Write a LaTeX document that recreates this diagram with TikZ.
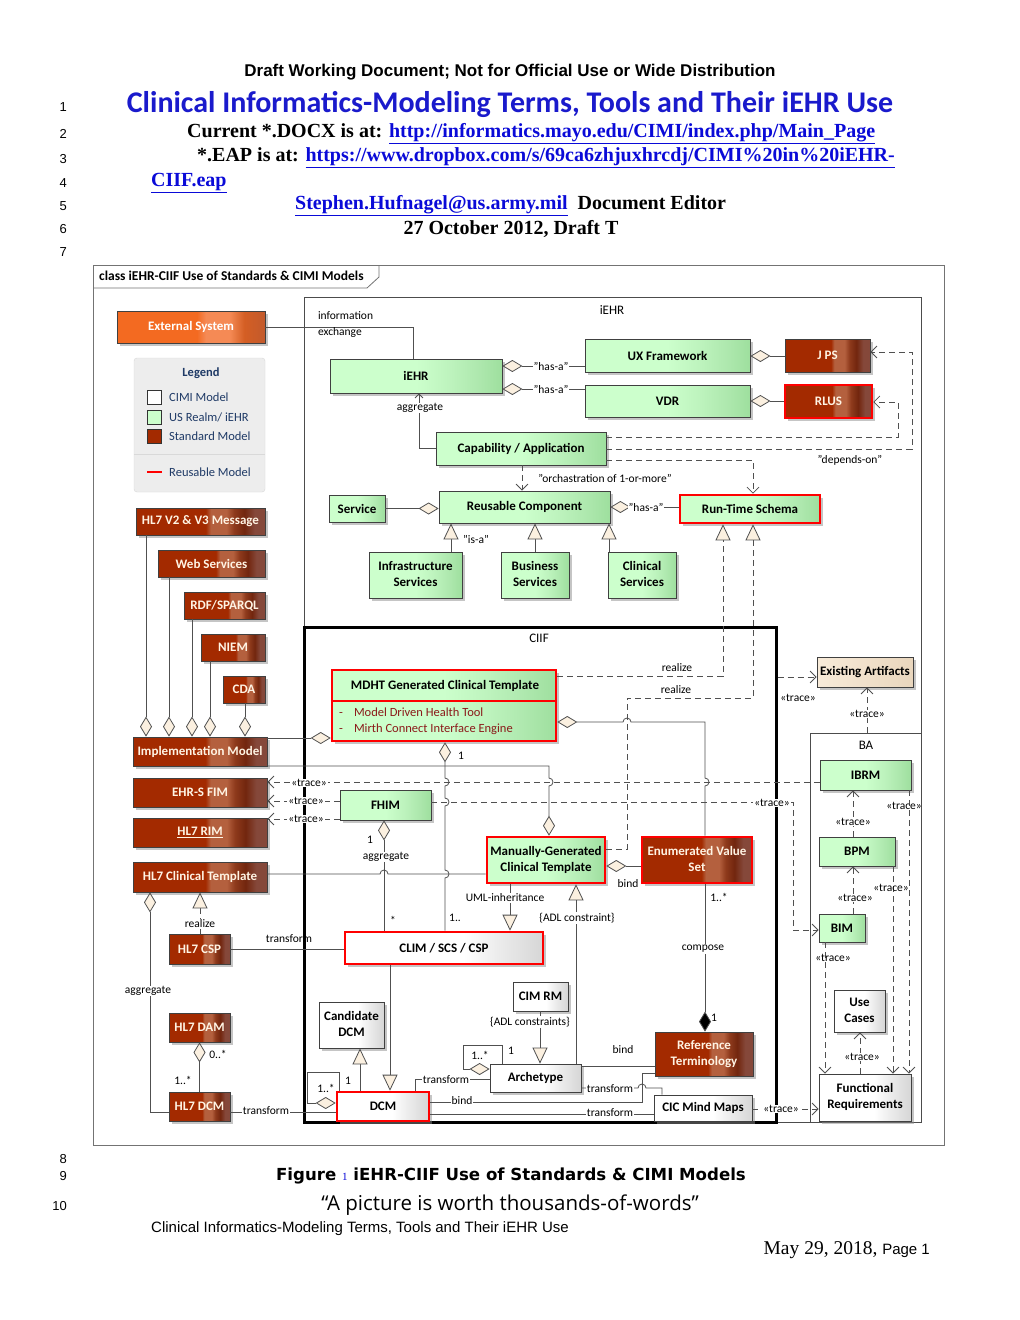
\documentclass[tikz,border=0pt]{standalone}
\usepackage{fontspec}
\setmainfont{Carlito}
\newfontfamily\lsans{Liberation Sans}
\newfontfamily\lserif{Liberation Serif}
\newfontfamily\dsans{DejaVu Sans}
\newfontfamily\qfont{Open Sans}
\usetikzlibrary{arrows.meta,shadows}
\definecolor{grn1}{HTML}{CCFFCC}
\definecolor{grn2}{HTML}{9EDF9E}
\definecolor{grn3}{HTML}{BDF3BD}
\definecolor{grn4}{HTML}{AEE8AE}
\definecolor{std1}{HTML}{A32A00}
\definecolor{std3}{HTML}{B4603E}
\definecolor{std4}{HTML}{8E3A1C}
\definecolor{std5}{HTML}{72260E}
\definecolor{std6}{HTML}{85483A}
\definecolor{stdtxt}{HTML}{FFF4E4}
\definecolor{wht2}{HTML}{D6D6D6}
\definecolor{wht3}{HTML}{EBEBEB}
\definecolor{ext1}{HTML}{F36A21}
\definecolor{ext3}{HTML}{F58A55}
\definecolor{ext4}{HTML}{D45E24}
\definecolor{ext5}{HTML}{C25A2C}
\definecolor{bei1}{HTML}{F8EBD9}
\definecolor{bei2}{HTML}{E9D6BD}
\definecolor{cream}{HTML}{FBF0E0}
\definecolor{lnc}{HTML}{505050}
\definecolor{legc}{HTML}{1F3A66}
\definecolor{ttlblue}{HTML}{1A1ACC}
\definecolor{linkblue}{HTML}{0A0AD8}
\definecolor{itemred}{HTML}{8B1A1A}
\pgfdeclarehorizontalshading{stdshade}{100bp}{color(0bp)=(std1); color(25bp)=(std1); color(52bp)=(std1); color(54bp)=(std3); color(60bp)=(std3); color(63bp)=(std4); color(67bp)=(std5); color(71bp)=(std6); color(75bp)=(std6); color(100bp)=(std6)}
\pgfdeclarehorizontalshading{grnshade}{100bp}{color(0bp)=(grn1); color(25bp)=(grn1); color(50bp)=(grn1); color(60bp)=(grn3); color(68bp)=(grn4); color(75bp)=(grn2); color(100bp)=(grn2)}
\pgfdeclarehorizontalshading{whtshade}{100bp}{color(0bp)=(white); color(25bp)=(white); color(55bp)=(white); color(64bp)=(wht3); color(75bp)=(wht2); color(100bp)=(wht2)}
\pgfdeclarehorizontalshading{extshade}{100bp}{color(0bp)=(ext1); color(25bp)=(ext1); color(52bp)=(ext1); color(55bp)=(ext3); color(63bp)=(ext3); color(68bp)=(ext4); color(75bp)=(ext5); color(100bp)=(ext5)}
\newcommand\twol[2]{\begin{tabular}{@{}c@{}}#1\\#2\end{tabular}}
% \bx{style}{x1}{y1}{x2}{y2}{name}{text}
\newcommand\bx[7]{\node[#1, minimum width={(#4-#2)*1pt}, minimum height={(#5-#3)*1pt}, anchor=center] (#6) at ({(#2+#4)/2},{(#3+#5)/2}) {#7};}
\begin{document}
\begin{tikzpicture}[x=1pt,y=-1pt,
 box/.style={draw=black!75, line width=0.8pt, inner sep=0pt,
   font=\fontsize{13}{16}\selectfont\bfseries,
   drop shadow={shadow xshift=2.5pt,shadow yshift=-2.5pt,fill=black!45,opacity=0.5}},
 gbox/.style={box, shade, shading=grnshade},
 sbox/.style={box, shade, shading=stdshade, text=stdtxt},
 wbox/.style={box, shade, shading=whtshade},
 ebox/.style={box, shade, shading=extshade, text=white},
 bbox/.style={box, left color=bei1, right color=bei2},
 redb/.style={draw=red, line width=2.6pt},
 pkg/.style={draw=black!70, line width=0.8pt, inner sep=0pt},
 conn/.style={draw=lnc, line width=0.8pt},
 dconn/.style={conn, dash pattern=on 6pt off 4pt},
 otip/.style={-{Straight Barb[length=6pt,width=12pt]}},
 ttip/.style={-{Triangle[length=16pt,width=15pt,fill=cream]}},
 dend/.style={-{Diamond[length=20pt,width=12pt,fill=cream]}},
 dstart/.style={{Diamond[length=20pt,width=12pt,fill=cream]}-},
 lbl/.style={font=\fontsize{11.5}{12}\selectfont, inner sep=0.8pt},
 lblw/.style={lbl, fill=white},
 hdr/.style={inner sep=0pt},
 lnum/.style={inner sep=0pt, anchor=east, font=\lsans\fontsize{13}{14}\selectfont},
 hoph/.style={},
]
\useasboundingbox (0,0) rectangle (1020,1320);
\fill[white] (0,0) rectangle (1020,1320);

% ---------- header ----------
\node[hdr] (draft) at (510,72) {\lsans\bfseries\fontsize{17}{18}\selectfont Draft Working Document; Not for Official Use or Wide Distribution};
\node[hdr, text=ttlblue] (title) at (510,104) {\bfseries\fontsize{30}{32}\selectfont Clinical Informatics-Modeling Terms, Tools and Their iEHR Use};
\node[hdr, anchor=west] (l2) at (187,134) {\lserif\bfseries\fontsize{20}{22}\selectfont Current *.DOCX is at: \textcolor{linkblue}{\underline{http://informatics.mayo.edu/CIMI/index.php/Main\_Page}}};
\node[hdr, anchor=west] (l3) at (197,158) {\lserif\bfseries\fontsize{20}{22}\selectfont *.EAP is at: \textcolor{linkblue}{\underline{https://www.dropbox.com/s/69ca6zhjuxhrcdj/CIMI\%20in\%20iEHR-}}};
\node[hdr, anchor=west] (l4) at (151,183) {\lserif\bfseries\fontsize{20}{22}\selectfont \textcolor{linkblue}{\underline{CIIF.eap}}};
\node[hdr, anchor=west] (l5) at (295,206) {\lserif\bfseries\fontsize{20}{22}\selectfont \textcolor{linkblue}{\underline{Stephen.Hufnagel@us.army.mil}}\ \ Document Editor};
\node[hdr] (l6) at (511,229) {\lserif\bfseries\fontsize{20}{22}\selectfont 27 October 2012, Draft T};
\node[lnum] (n1) at (67,107) {1};
\node[lnum] (n2) at (67,134) {2};
\node[lnum] (n3) at (67,159) {3};
\node[lnum] (n4) at (67,183) {4};
\node[lnum] (n5) at (67,206) {5};
\node[lnum] (n6) at (67,229) {6};
\node[lnum] (n7) at (67,252) {7};
\node[lnum] (n8) at (67,1159) {8};
\node[lnum] (n9) at (67,1176) {9};
\node[lnum] (n10) at (67,1206) {10};

% ---------- footer ----------
\node[hdr] (fig) at (511,1176) {\dsans\bfseries\fontsize{16.6}{18}\selectfont Figure {\lserif\mdseries\fontsize{11}{12}\selectfont\color{linkblue}1} iEHR-CIIF Use of Standards \& CIMI Models};
\node[hdr] (quote) at (510,1205) {\qfont\fontsize{20.5}{22}\selectfont “A picture is worth thousands-of-words”};
\node[hdr, anchor=west] (foot) at (151,1229) {\lsans\fontsize{15}{16}\selectfont Clinical Informatics-Modeling Terms, Tools and Their iEHR Use};
\node[hdr, anchor=east] (page) at (930,1250) {\lserif\fontsize{19.5}{21}\selectfont May 29, 2018, {\lsans\fontsize{15}{16}\selectfont Page 1}};

% ---------- frame ----------
\draw[black!55, line width=0.8pt] (93,265) rectangle (944,1145);
\draw[black!55, line width=0.8pt] (93,288) -- (367,288) -- (379,277) -- (379,265);
\node[hdr, anchor=west] (frametitle) at (99,276) {\bfseries\fontsize{13.5}{14}\selectfont class iEHR-CIIF Use of Standards \& CIMI Models};

% ---------- packages ----------
\bx{pkg}{304}{297}{921}{1122}{pkgiehr}{}
\bx{pkg, draw=black, line width=3pt}{304}{627}{776}{1122}{ciif}{}
\bx{pkg}{810}{733}{921}{1122}{ba}{}
\node[lbl, font=\fontsize{13}{14}\selectfont] (iehrlbl) at (612,310) {iEHR};
\node[lbl, font=\fontsize{13}{14}\selectfont] (ciiflbl) at (539,638) {CIIF};
\node[lbl, font=\fontsize{13}{14}\selectfont] (balbl) at (866,745) {BA};

% ---------- legend ----------
\bx{draw=black!15, fill=black!7, rounded corners=3pt, inner sep=0pt}{134}{358}{265}{492}{legend}{}
\node[text=legc, font=\fontsize{12.5}{13}\selectfont\bfseries] (legt) at (201,373) {Legend};
\node[draw=black!80, fill=white, minimum size=14pt, inner sep=0pt] (lg1) at (154,397) {};
\node[draw=black!80, fill=grn1, minimum size=14pt, inner sep=0pt] (lg2) at (154,417) {};
\node[draw=black!80, fill=std1, minimum size=14pt, inner sep=0pt] (lg3) at (154,436) {};
\node[anchor=west, text=legc, inner sep=0pt, font=\fontsize{12.5}{13}\selectfont] (lt1) at (169,397) {CIMI Model};
\node[anchor=west, text=legc, inner sep=0pt, font=\fontsize{12.5}{13}\selectfont] (lt2) at (169,417) {US Realm/ iEHR};
\node[anchor=west, text=legc, inner sep=0pt, font=\fontsize{12.5}{13}\selectfont] (lt3) at (169,436) {Standard Model};
\draw[black!15] (legend.west |- 0,454) -- (legend.east |- 0,454);
\draw[red, line width=2.5pt] (147,472) -- (162,472);
\node[anchor=west, text=legc, inner sep=0pt, font=\fontsize{12.5}{13}\selectfont] (lt4) at (169,472) {Reusable Model};

% ---------- left column nodes ----------
\bx{ebox}{117}{311}{265}{343}{ext}{External System}
\bx{sbox}{136}{508}{265}{535}{hl7v}{HL7 V2 \& V3 Message}
\bx{sbox}{158}{550}{265}{577}{web}{Web Services}
\bx{sbox}{184}{592}{265}{619}{rdf}{RDF/SPARQL}
\bx{sbox}{201}{634}{265}{661}{niem}{NIEM}
\bx{sbox}{223}{676}{265}{703}{cda}{CDA}
\bx{sbox}{133}{737}{267}{766}{impl}{Implementation Model}
\bx{sbox}{133}{778}{267}{807}{ehrs}{EHR-S FIM}
\bx{sbox}{133}{818}{267}{847}{rim}{\underline{HL7 RIM}}
\bx{sbox}{133}{862}{267}{892}{hct}{HL7 Clinical Template}
\bx{sbox}{169}{934}{230}{964}{hcsp}{HL7 CSP}
\bx{sbox}{169}{1013}{230}{1042}{hdam}{HL7 DAM}
\bx{sbox}{169}{1092}{230}{1121}{hdcm}{HL7 DCM}

% ---------- iEHR nodes ----------
\bx{gbox}{330}{359}{502}{393}{iehr}{iEHR}
\bx{gbox}{585}{339}{750}{372}{ux}{UX Framework}
\bx{gbox}{585}{385}{750}{417}{vdr}{VDR}
\bx{sbox}{785}{339}{870}{372}{jps}{J PS}
\bx{sbox, redb}{785}{385}{872}{418}{rlus}{RLUS}
\bx{gbox}{436}{432}{606}{465}{cap}{Capability / Application}
\bx{gbox}{329}{495}{385}{522}{service}{Service}
\bx{gbox}{439}{491}{610}{523}{rc}{Reusable Component}
\bx{gbox, redb}{680}{495}{820}{523}{rts}{Run-Time Schema}
\bx{gbox}{369}{552}{462}{598}{infra}{\twol{Infrastructure}{Services}}
\bx{gbox}{501}{552}{569}{598}{bus}{\twol{Business}{Services}}
\bx{gbox}{608}{552}{676}{598}{clin}{\twol{Clinical}{Services}}

% ---------- CIIF nodes ----------
\bx{gbox, redb}{332}{670}{556}{741}{mdht}{}
\draw[red, line width=2.6pt] (mdht.west |- 0,701) -- (mdht.east |- 0,701);
\node[font=\fontsize{13}{14}\selectfont\bfseries, inner sep=0pt] (mdhtt) at (445,686) {MDHT Generated Clinical Template};
\node[anchor=west, text=itemred, inner sep=0pt, font=\fontsize{12.5}{13}\selectfont] (mdi1) at (339,712) {-\hspace{11pt}Model Driven Health Tool};
\node[anchor=west, text=itemred, inner sep=0pt, font=\fontsize{12.5}{13}\selectfont] (mdi2) at (339,729) {-\hspace{11pt}Mirth Connect Interface Engine};
\bx{gbox}{340}{790}{431}{820}{fhim}{FHIM}
\bx{gbox, redb}{487}{837}{605}{883}{mgct}{\twol{Manually-Generated}{Clinical Template}}
\bx{sbox, redb}{642}{837}{752}{883}{evs}{\twol{Enumerated Value}{Set}}
\bx{wbox, redb}{345}{932}{543}{964}{clim}{CLIM / SCS / CSP}
\bx{wbox}{513}{982}{568}{1011}{cimrm}{CIM RM}
\bx{wbox}{319}{1002}{384}{1048}{cand}{\twol{Candidate}{DCM}}
\bx{wbox}{490}{1064}{581}{1092}{arch}{Archetype}
\bx{sbox}{655}{1032}{753}{1076}{rt}{\twol{Reference}{Terminology}}
\bx{wbox, redb}{337}{1092}{429}{1121}{dcm}{DCM}
\bx{wbox}{654}{1095}{752}{1121}{cic}{CIC Mind Maps}

% ---------- BA nodes ----------
\bx{bbox}{817}{657}{913}{687}{exist}{Existing Artifacts}
\bx{gbox}{820}{760}{911}{790}{ibrm}{IBRM}
\bx{gbox}{819}{837}{895}{866}{bpm}{BPM}
\bx{gbox}{819}{914}{865}{942}{bim}{BIM}
\bx{wbox}{834}{990}{885}{1032}{uc}{\twol{Use}{Cases}}
\bx{wbox}{819}{1074}{911}{1121}{fr}{\twol{Functional}{Requirements}}

% ---------- connectors: iEHR ----------
\draw[conn] (ext.east) -| (iehr.north -| 413,0);
\draw[conn, -{Straight Barb[length=4pt,width=8pt]}] (cap.west) -| (iehr.south -| 419,0);
\draw[conn, dstart] (iehr.east |- 0,366) -- (ux.west |- 0,366);
\draw[conn, dstart] (iehr.east |- 0,389) -- (vdr.west |- 0,389);
\draw[conn, dstart] (ux.east |- 0,356) -- (jps.west |- 0,356);
\draw[conn, dstart] (vdr.east |- 0,401) -- (rlus.west |- 0,401);
\draw[dconn, otip] (cap.east |- 0,449) -- (912,449) -- (912,352) -- (jps.east |- 0,352);
\draw[dconn, otip] (cap.east |- 0,437) -- (898,437) -- (898,402) -- (rlus.east |- 0,402);
\draw[dconn, otip] (cap.east |- 0,460) -| (rts.north -| 753,0);
\draw[dconn, otip] (cap.south -| 522,0) -- (rc.north -| 522,0);
\draw[conn, dend] (service.east) -- (rc.west |- service.east);
\draw[conn, dstart] (rc.east) -- (rts.west |- rc.east);
\draw[conn, ttip] (infra.north -| 451,0) -- (rc.south -| 451,0);
\draw[conn, ttip] (bus.north) -- (bus.north |- rc.south);
\draw[conn, ttip] (clin.north -| 609,0) -- (rc.south -| 609,0);
\draw[dconn, ttip] (mdht.east |- 0,676) -| (rts.south -| 723,0);
\draw[dconn, ttip] (mgct.east |- 0,849) -| (627,698) -| (rts.south -| 753,0);

% ---------- connectors: left column ----------
\draw[conn, dend] (hl7v.south -| 146,0) -- (impl.north -| 146,0);
\draw[conn, dend] (web.south -| 169,0) -- (impl.north -| 169,0);
\draw[conn, dend] (rdf.south -| 192,0) -- (impl.north -| 192,0);
\draw[conn, dend] (niem.south -| 210,0) -- (impl.north -| 210,0);
\draw[conn, dend] (cda.south -| 245,0) -- (impl.north -| 245,0);
\draw[conn] (hcsp.east) -- (clim.west |- hcsp.east);
\draw[dconn, ttip] (hcsp.north -| 200,0) -- (hct.south -| 200,0);
\draw[conn, dstart] (hct.south -| 150,0) |- (hdcm.west |- 0,1112);
\draw[conn, dstart] (hdam.south) -- (hdcm.north);
\draw[conn] (hdcm.east |- 0,1112) -- (dcm.west |- 0,1112);

% ---------- connectors: CIIF (with line hops) ----------
\draw[conn, dstart] (mdht.east |- 0,722) -- (623,722) arc[start angle=180,end angle=360,radius=4] -- (705,722) -- (705,778) arc[start angle=-90,end angle=90,radius=4] -- (evs.north -| 705,0);
\draw[conn, dend] (impl.east |- 0,738) -- (mdht.west |- 0,738);
\draw[conn, dend] (impl.east |- 0,766) -- (549,766) -- (549,778) arc[start angle=-90,end angle=90,radius=4] -- (mgct.north -| 549,0);
\draw[conn, dstart] (mdht.south -| 445,0) -- (445,778) arc[start angle=-90,end angle=90,radius=4] -- (445,798) arc[start angle=-90,end angle=90,radius=4] -- (445,870) arc[start angle=-90,end angle=90,radius=4] -- (clim.north -| 445,0);
\draw[conn] (hct.east |- 0,874) -- (380,874) arc[start angle=180,end angle=360,radius=4] -- (mgct.west |- 0,874);
\draw[conn, dstart] (fhim.south -| 384,0) -- (clim.north -| 384,0);
\draw[conn, dstart] (mgct.east |- 0,866) -- (evs.west |- 0,866);
\draw[conn, ttip] (mgct.south -| 510,0) -- (clim.north -| 510,0);
\draw[conn, ttip] (arch.north -| 576,0) -- (mgct.south -| 576,0);
\draw[conn, ttip] (clim.south -| 390,0) -- (dcm.north -| 390,0);
\draw[conn, ttip] (cimrm.south -| 540,0) -- (arch.north -| 540,0);
\draw[conn, ttip] (dcm.north -| 360,0) -- (cand.south -| 360,0);
\draw[conn, dend] (dcm.north -| 339,0) -- (339,1072) -- (307,1072) -- (307,1103) -- (dcm.west |- 0,1103);
\draw[conn, dend] (arch.north -| 502,0) -- (502,1045) -- (463,1045) -- (463,1069) -- (arch.west |- 0,1069);
\draw[conn] (dcm.north -| 415,0) |- (arch.west |- 0,1079);
\draw[conn] (arch.east |- 0,1066) -- (rt.west |- 0,1066);
\draw[conn] (dcm.east |- 0,1102) -| (642,1073) -- (rt.west |- 0,1073);
\draw[conn] (arch.east |- 0,1088) -- (638,1088) arc[start angle=180,end angle=360,radius=4] -- (662,1088) -- (cic.north -| 662,0);
\draw[conn] (dcm.east |- 0,1114) -- (cic.west |- 0,1114);
\draw[conn, -{Diamond[length=20pt,width=12pt,fill=black]}] (evs.south -| 705,0) -- (rt.north -| 705,0);

% ---------- trace connectors ----------
\draw[dconn, otip] (ibrm.west |- 0,782) -- (ehrs.east |- 0,782);
\draw[dconn, otip] (fhim.west |- 0,801) -- (ehrs.east |- 0,801);
\draw[dconn, otip] (fhim.west |- 0,819) -- (rim.east |- 0,819);
\draw[dconn, otip] (fhim.east |- 0,802) -| (793,930) -- (bim.west |- 0,930);
\draw[dconn, otip] (ciif.east |- 0,677) -- (exist.west |- 0,677);
\draw[dconn, otip] (ba.north -| 867,0) -- (exist.south -| 867,0);
\draw[dconn, otip] (bpm.north -| 853,0) -- (ibrm.south -| 853,0);
\draw[dconn, otip] (bim.north -| 853,0) -- (bpm.south -| 853,0);
\draw[dconn, otip] (ibrm.south -| 909,0) -- (fr.north -| 909,0);
\draw[dconn, otip] (bpm.south -| 893,0) -- (fr.north -| 893,0);
\draw[dconn, otip] (bim.south -| 825,0) -- (fr.north -| 825,0);
\draw[dconn, otip] (fr.north -| 860,0) -- (uc.south -| 860,0);
\draw[dconn, otip] (cic.east |- 0,1109) -- (fr.west |- 0,1109);

% ---------- labels ----------
\node[lbl, anchor=west] (li1) at (317,316) {information};
\node[lbl, anchor=west] (li2) at (317,332) {exchange};
\node[lblw] (lagg1) at (420,408) {aggregate};
\node[lblw] (lhas1) at (551,366) {"has-a"};
\node[lblw] (lhas2) at (551,389) {"has-a"};
\node[lbl] (ldep) at (850,460) {"depends-on"};
\node[lbl] (lorch) at (605,478) {"orchastration of 1-or-more"};
\node[lblw] (lhas3) at (646,507) {"has-a"};
\node[lbl] (lisa) at (476,539) {"is-a"};
\node[lbl] (lreal1) at (677,668) {realize};
\node[lbl] (lreal2) at (676,690) {realize};
\node[lbl] (lone1) at (461,756) {1};
\node[lblw] (ltr1) at (309,783) {«trace»};
\node[lblw] (ltr2) at (306,801) {«trace»};
\node[lblw] (ltr3) at (306,819) {«trace»};
\node[lblw] (ltr4) at (772,803) {«trace»};
\node[lbl] (ltr5) at (798,698) {«trace»};
\node[lblw] (ltr6) at (867,714) {«trace»};
\node[lblw] (ltr7) at (853,822) {«trace»};
\node[lblw] (ltr8) at (855,898) {«trace»};
\node[lbl] (ltr9) at (904,806) {«trace»};
\node[lbl] (ltr10) at (891,888) {«trace»};
\node[lbl] (ltr11) at (833,958) {«trace»};
\node[lblw] (ltr12) at (862,1057) {«trace»};
\node[lblw] (ltr13) at (781,1109) {«trace»};
\node[lbl] (lone2) at (370,840) {1};
\node[lblw] (lagg2) at (386,857) {aggregate};
\node[lbl] (lstar) at (393,920) {*};
\node[lbl] (lone3) at (455,918) {1..};
\node[lblw] (luml) at (505,898) {UML-inheritance};
\node[lblw] (ladl1) at (577,918) {\{ADL constraint\}};
\node[lbl] (lbind1) at (628,884) {bind};
\node[lbl] (lmul1) at (719,897) {1..*};
\node[lblw] (lcomp) at (703,949) {compose};
\node[lbl] (lone4) at (714,1018) {1};
\node[lblw] (ladl2) at (530,1022) {\{ADL constraints\}};
\node[lbl] (lmul2) at (326,1088) {1..*};
\node[lbl] (lone5) at (348,1081) {1};
\node[lbl] (lmul3) at (480,1055) {1..*};
\node[lbl] (lone6) at (511,1051) {1};
\node[lblw] (ltf1) at (446,1080) {transform};
\node[lbl] (lbind2) at (623,1050) {bind};
\node[lblw] (lbind3) at (462,1101) {bind};
\node[lblw] (ltf2) at (610,1089) {transform};
\node[lblw] (ltf3) at (610,1113) {transform};
\node[lblw] (ltf4) at (266,1111) {transform};
\node[lbl] (ltf5) at (289,939) {transform};
\node[lblw] (lreal3) at (200,924) {realize};
\node[lblw] (lagg3) at (148,991) {aggregate};
\node[lbl] (lmul4) at (218,1054) {0..*};
\node[lbl] (lmul5) at (183,1080) {1..*};
\end{tikzpicture}
\end{document}
